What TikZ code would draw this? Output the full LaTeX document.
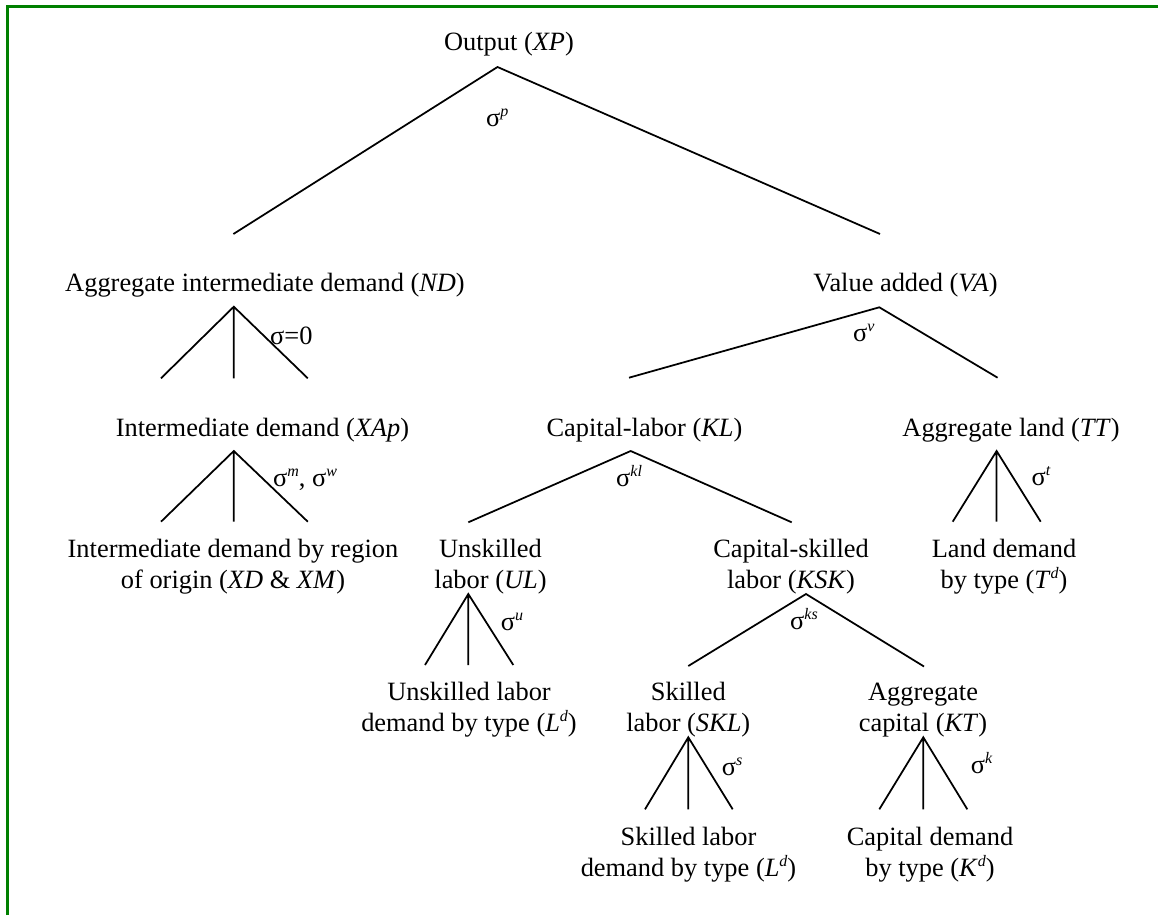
\documentclass[tikz,border=0pt]{standalone}
\usepackage{fontspec}
\setmainfont{Liberation Serif}
\definecolor{framegreen}{RGB}{0,128,0}
\newcommand{\supit}[1]{\raisebox{10pt}{\fontsize{16}{16}\selectfont\itshape #1}}
\begin{document}
\begin{tikzpicture}[x=1pt,y=-1pt,
  lbl/.style={inner sep=0pt, font=\fontsize{26.4}{31}\selectfont, align=center, anchor=base},
  sig/.style={inner sep=0pt, font=\fontsize{26.4}{31}\selectfont, anchor=base west},
  branch/.style={line width=1.75pt},
  frameline/.style={line width=3pt, draw=framegreen}]
\useasboundingbox (0,0) rectangle (1158,915);
\draw[frameline] (7.5,915) -- (7.5,6.5) -- (1158,6.5);

% text nodes (anchor = baseline of the last line)
\node[lbl] (xp)  at (509,51)   {Output (\textit{XP})};
\node[lbl] (nd)  at (265,291)  {Aggregate intermediate demand (\textit{ND})};
\node[lbl] (va)  at (905.5,291) {Value added (\textit{VA})};
\node[lbl] (xap) at (262.5,436) {Intermediate demand (\textit{XAp})};
\node[lbl] (kl)  at (644.5,436) {Capital-labor (\textit{KL})};
\node[lbl] (tt)  at (1011,436) {Aggregate land (\textit{TT})};
\node[lbl] (xdm) at (233,588)  {Intermediate demand by region\\of origin (\textit{XD} \& \textit{XM})};
\node[lbl] (ul)  at (490.5,588) {Unskilled\\labor (\textit{UL})};
\node[lbl] (ksk) at (791,588)  {Capital-skilled\\labor (\textit{KSK})};
\node[lbl] (td)  at (1004,588) {Land demand\\by type (\textit{T}\supit{d})};
\node[lbl] (uld) at (469,731)  {Unskilled labor\\demand by type (\textit{L}\supit{d})};
\node[lbl] (skl) at (688.3,731) {Skilled\\labor (\textit{SKL})};
\node[lbl] (kt)  at (923,731)  {Aggregate\\capital (\textit{KT})};
\node[lbl] (sld) at (688.5,876) {Skilled labor\\demand by type (\textit{L}\supit{d})};
\node[lbl] (kd)  at (930,876)  {Capital demand\\by type (\textit{K}\supit{d})};

% fork coordinates
\coordinate (xpA) at (497.5,67);
\coordinate (xpL) at (233.4,234);
\coordinate (xpR) at (880,234);
\coordinate (ndA) at (233.8,306.7);
\coordinate (ndL) at (161,378.3);
\coordinate (ndM) at (233.8,378.3);
\coordinate (ndR) at (307.8,378.3);
\coordinate (vaA) at (879.3,307.3);
\coordinate (vaL) at (629,377.7);
\coordinate (vaR) at (997.6,377.7);
\coordinate (xapA) at (233.8,451);
\coordinate (xapL) at (161,521.7);
\coordinate (xapM) at (233.8,521.7);
\coordinate (xapR) at (307.8,521.7);
\coordinate (klA) at (630.7,451);
\coordinate (klL) at (468.3,522.3);
\coordinate (klR) at (791.7,522.3);
\coordinate (ttA) at (996.6,451);
\coordinate (ttL) at (952.7,521.7);
\coordinate (ttM) at (996.6,521.7);
\coordinate (ttR) at (1040.7,521.7);
\coordinate (ulA) at (468.3,594);
\coordinate (ulL) at (425,665);
\coordinate (ulM) at (468.3,665);
\coordinate (ulR) at (513.3,665);
\coordinate (kskA) at (806,594);
\coordinate (kskL) at (688.3,666);
\coordinate (kskR) at (924,666.5);
\coordinate (sklA) at (688.3,737.3);
\coordinate (sklL) at (645,809.3);
\coordinate (sklM) at (688.3,809.3);
\coordinate (sklR) at (732.7,809.3);
\coordinate (ktA) at (923.3,737.3);
\coordinate (ktL) at (879.3,809.3);
\coordinate (ktM) at (923.3,809.3);
\coordinate (ktR) at (967.3,809.3);

% branches
\draw[branch] (xpL) -- (xpA) -- (xpR);
\draw[branch] (ndL) -- (ndA) -- (ndR) (ndA) -- (ndM);
\draw[branch] (vaL) -- (vaA) -- (vaR);
\draw[branch] (xapL) -- (xapA) -- (xapR) (xapA) -- (xapM);
\draw[branch] (klL) -- (klA) -- (klR);
\draw[branch] (ttL) -- (ttA) -- (ttR) (ttA) -- (ttM);
\draw[branch] (ulL) -- (ulA) -- (ulR) (ulA) -- (ulM);
\draw[branch] (kskL) -- (kskA) -- (kskR);
\draw[branch] (sklL) -- (sklA) -- (sklR) (sklA) -- (sklM);
\draw[branch] (ktL) -- (ktA) -- (ktR) (ktA) -- (ktM);

% elasticity labels
\node[sig] (sp)  at (486,127)   {σ\supit{p}};
\node[sig] (s0)  at (270,344)   {σ=0};
\node[sig] (smw) at (273,486)   {σ\supit{m}, σ\supit{w}};
\node[sig] (sv)  at (853,341.5) {σ\supit{v}};
\node[sig] (skl2) at (616,486)  {σ\supit{kl}};
\node[sig] (st)  at (1031.5,485) {σ\supit{t}};
\node[sig] (su)  at (500.7,630) {σ\supit{u}};
\node[sig] (sks) at (790,629)   {σ\supit{ks}};
\node[sig] (ss)  at (721.7,775) {σ\supit{s}};
\node[sig] (sk)  at (970.7,773) {σ\supit{k}};
\end{tikzpicture}
\end{document}
